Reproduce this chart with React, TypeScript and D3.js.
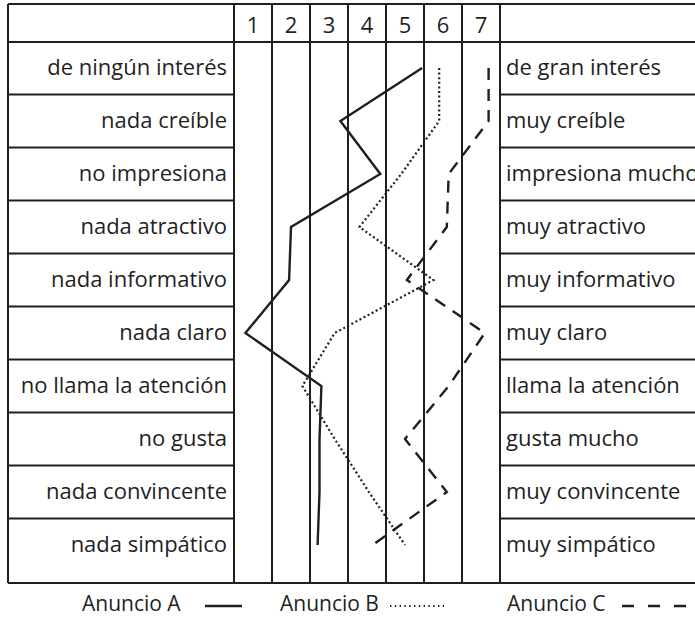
import React, { useEffect, useRef } from 'react';
import * as d3 from 'd3';

// polos negativos (izquierda) y positivos (derecha) del diferencial semántico
const leftLabels = [
  'de ningún interés',
  'nada creíble',
  'no impresiona',
  'nada atractivo',
  'nada informativo',
  'nada claro',
  'no llama la atención',
  'no gusta',
  'nada convincente',
  'nada simpático',
];
const rightLabels = [
  'de gran interés',
  'muy creíble',
  'impresiona mucho',
  'muy atractivo',
  'muy informativo',
  'muy claro',
  'llama la atención',
  'gusta mucho',
  'muy convincente',
  'muy simpático',
];
const scalePoints = [1, 2, 3, 4, 5, 6, 7];

// valores medios (escala 1-7)
const anuncioA = [5.45, 3.3, 4.35, 2.0, 1.95, 0.8, 2.8, 2.75, 2.75, 2.7];
const anuncioB = [5.9, 5.9, 4.9, 3.8, 5.75, 3.15, 2.3, 3.15, 4.05, 5.0];
const anuncioC = [7.2, 7.2, 6.15, 6.1, 5.05, 7.1, 6.15, 5.0, 6.1, 4.15];
const seriesNames = ['Anuncio A', 'Anuncio B', 'Anuncio C'];

export default function App() {
  const ref = useRef<SVGSVGElement>(null);

  useEffect(() => {
    const svg = d3.select(ref.current);
    svg.selectAll('*').remove();

    const width = 695;
    const left = 8;
    const top = 4;
    const headerBottom = 42;
    const bottom = 583;
    const ink = '#1f1f1f';
    const font = "'Open Sans', sans-serif";
    const fontSize = 22;

    const x = d3.scaleLinear().domain([0.5, 7.5]).range([234, 500]);
    const y = d3.scalePoint<string>().domain(leftLabels).range([68, 545]);
    const rowY = (i: number) => y(leftLabels[i]) as number;

    const grid = svg.append('g').attr('stroke', ink).attr('stroke-width', 2);

    // bordes horizontales de la tabla
    [top, headerBottom, bottom].forEach(yy => {
      grid.append('line').attr('x1', left).attr('x2', width).attr('y1', yy).attr('y2', yy);
    });
    // separaciones entre filas (solo en las columnas de texto)
    for (let i = 0; i < leftLabels.length - 1; i++) {
      const yy = (rowY(i) + rowY(i + 1)) / 2;
      grid.append('line').attr('x1', left).attr('x2', x(0.5)).attr('y1', yy).attr('y2', yy);
      grid.append('line').attr('x1', x(7.5)).attr('x2', width).attr('y1', yy).attr('y2', yy);
    }
    // líneas verticales
    grid.append('line').attr('x1', left).attr('x2', left).attr('y1', top).attr('y2', bottom);
    d3.range(0.5, 8, 1).forEach(v => {
      grid.append('line').attr('x1', x(v)).attr('x2', x(v)).attr('y1', top).attr('y2', bottom);
    });

    // números de la escala
    svg.append('g')
      .selectAll('text')
      .data(scalePoints)
      .join('text')
      .attr('x', d => x(d))
      .attr('y', 33)
      .attr('text-anchor', 'middle')
      .attr('font-family', font)
      .attr('font-size', fontSize)
      .attr('fill', ink)
      .text(d => d);

    // etiquetas
    svg.append('g')
      .selectAll('text')
      .data(leftLabels)
      .join('text')
      .attr('x', x(0.5) - 7)
      .attr('y', d => (y(d) as number) + 7)
      .attr('text-anchor', 'end')
      .attr('font-family', font)
      .attr('font-size', fontSize)
      .attr('fill', ink)
      .text(d => d);

    svg.append('g')
      .selectAll('text')
      .data(rightLabels)
      .join('text')
      .attr('x', x(7.5) + 6)
      .attr('y', (d, i) => rowY(i) + 7)
      .attr('font-family', font)
      .attr('font-size', fontSize)
      .attr('fill', ink)
      .text(d => d);

    // perfiles
    const line = d3.line<number>()
      .x(d => x(d))
      .y((d, i) => rowY(i));

    const styles = [
      { dash: null, width: 2.4 },
      { dash: '2 2.6', width: 2.2 },
      { dash: '12 9', width: 2.4 },
    ];
    [anuncioA, anuncioB, anuncioC].forEach((s, k) => {
      svg.append('path')
        .datum(s)
        .attr('fill', 'none')
        .attr('stroke', ink)
        .attr('stroke-width', styles[k].width)
        .attr('stroke-dasharray', styles[k].dash)
        .attr('d', line);
    });

    // leyenda
    const legendY = 606;
    const legend = [
      { tx: 82, x1: 205, x2: 242, dash: null, w: 2.4 },
      { tx: 280, x1: 390, x2: 444, dash: '1.4 3.4', w: 1.8 },
      { tx: 507, x1: 622, x2: 686, dash: '12 14', w: 2.4 },
    ];
    seriesNames.forEach((name, k) => {
      svg.append('text')
        .attr('x', legend[k].tx)
        .attr('y', 611)
        .attr('font-family', font)
        .attr('font-size', 21)
        .attr('fill', ink)
        .text(name);
      svg.append('line')
        .attr('x1', legend[k].x1)
        .attr('x2', legend[k].x2)
        .attr('y1', legendY)
        .attr('y2', legendY)
        .attr('stroke', ink)
        .attr('stroke-width', legend[k].w)
        .attr('stroke-dasharray', legend[k].dash);
    });
  }, []);

  return (
    <svg
      ref={ref}
      width={695}
      height={618}
      style={{ position: 'absolute', left: 0, top: 0, background: '#fff' }}
    />
  );
}
